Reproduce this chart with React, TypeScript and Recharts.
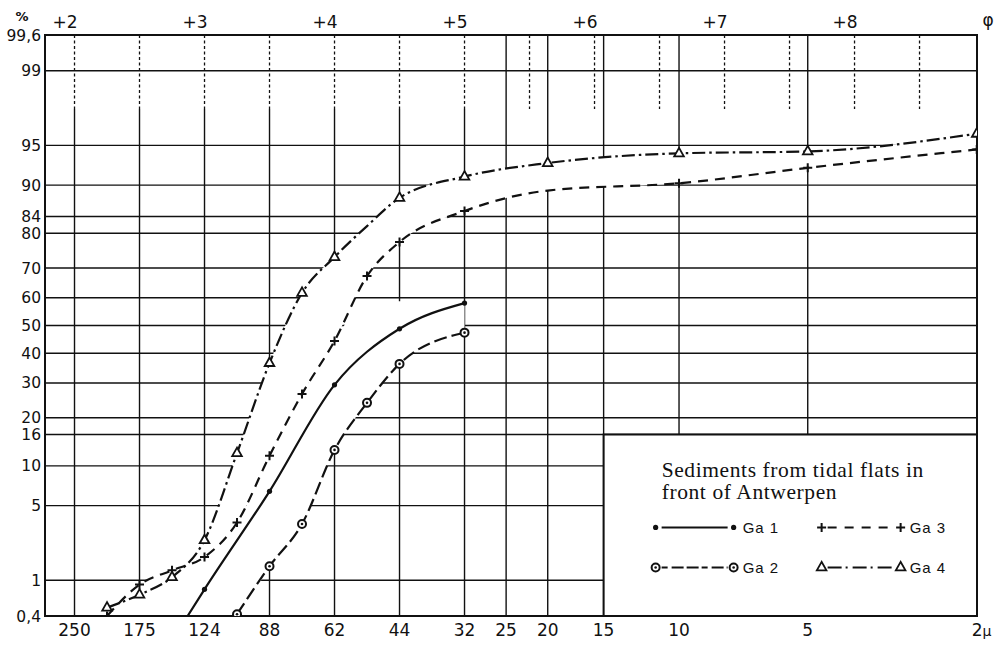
import React from 'react';
import { ComposedChart, Line, Area, XAxis, YAxis, ReferenceLine, ReferenceArea } from 'recharts';

// ---------- grain-size classes (phi) ----------
const PHI = [2.25, 2.5, 2.75, 3.0, 3.25, 3.5, 3.75, 4.0, 4.25, 4.5, 5.0, 5.64, 6.65, 7.64, 8.94];

// ---------- cumulative percentages ----------
const ga1Phi = [2.87, 3.0, 3.5, 4.0, 4.5, 5.0];
const ga1Pct = [0.4, 0.8, 6.5, 29.4, 48.8, 58.1];
const ga1Measured = [false, true, true, true, true, true];

const ga2Phi = [3.25, 3.5, 3.75, 4.0, 4.25, 4.5, 5.0];
const ga2Pct = [0.42, 1.4, 3.5, 12.8, 24, 36.3, 47.4];

const ga3Pct = [0.4, 0.9, 1.27, 1.73, 3.6, 11.7, 26.6, 44.4, 67.4, 77.7, 85.2, 89.1, 90.3, 92.5, 94.6];
const ga3Measured = [true, true, true, true, true, true, true, true, true, true, true, false, true, true, true];

const ga4Pct = [0.5, 0.7, 1.08, 2.5, 12.2, 36.6, 61.7, 73.4, 81.8, 87.8, 91.3, 93.1, 94.2, 94.4, 96.0];
const ga4Measured = [true, true, true, true, true, true, true, true, false, true, true, true, true, true, true];

// ---------- axes ----------
const yTickPct = [0.4, 1, 5, 10, 16, 20, 30, 40, 50, 60, 70, 80, 84, 90, 95, 99, 99.6];
const yTickText = ['0,4', '1', '5', '10', '16', '20', '30', '40', '50', '60', '70', '80', '84', '90', '95', '99', '99,6'];

const phiTicks = [2, 3, 4, 5, 6, 7, 8];
const phiTickText = ['+2', '+3', '+4', '+5', '+6', '+7', '+8'];
const phiHalfSteps = [2, 2.5, 3, 3.5, 4, 4.5, 5, 5.5, 6, 6.5, 7, 7.5, 8, 8.5];

const micronText = ['250', '175', '124', '88', '62', '44', '32', '25', '20', '15', '10', '5', '2'];
const micronPhi = [2, 2.5, 3, 3.5, 4, 4.5, 5, 5.32, 5.64, 6.07, 6.65, 7.64, 8.94];
const sieveLinePhi = [2, 2.5, 3, 3.5, 4, 4.5, 5];
const pipetteLinePhi = [5.32, 5.64, 6.07, 6.65, 7.64];

const X_MIN = 1.773;
const X_MAX = 8.942;
const PCT_MIN = 0.4;
const PCT_MAX = 99.6;
const GUIDE_PCT = 97.6; // lower end of the dashed phi guides
const CLEAR_CUT = 58.8; // grid is kept above this level right of Ga 3
const LEGEND_PCT = 16;
const LEGEND_PHI = 6.07;

// inverse of the standard normal CDF (Acklam)
function probit(p: number): number {
  const a = [-39.69683028665376, 220.9460984245205, -275.9285104469687, 138.357751867269, -30.66479806614716, 2.506628277459239];
  const b = [-54.47609879822406, 161.5858368580409, -155.6989798598866, 66.80131188771972, -13.28068155288572];
  const c = [-0.007784894002430293, -0.3223964580411365, -2.400758277161838, -2.549732539343734, 4.374664141464968, 2.938163982698783];
  const d = [0.007784695709041462, 0.3224671290700398, 2.445134137142996, 3.754408661907416];
  const pl = 0.02425;
  if (p < pl) {
    const q = Math.sqrt(-2 * Math.log(p));
    return (((((c[0] * q + c[1]) * q + c[2]) * q + c[3]) * q + c[4]) * q + c[5]) / ((((d[0] * q + d[1]) * q + d[2]) * q + d[3]) * q + 1);
  }
  if (p > 1 - pl) {
    const q = Math.sqrt(-2 * Math.log(1 - p));
    return -(((((c[0] * q + c[1]) * q + c[2]) * q + c[3]) * q + c[4]) * q + c[5]) / ((((d[0] * q + d[1]) * q + d[2]) * q + d[3]) * q + 1);
  }
  const q = p - 0.5;
  const r = q * q;
  return ((((((a[0] * r + a[1]) * r + a[2]) * r + a[3]) * r + a[4]) * r + a[5]) * q) / (((((b[0] * r + b[1]) * r + b[2]) * r + b[3]) * r + b[4]) * r + 1);
}
const pz = (pct: number) => probit(pct / 100);

const Z_MIN = pz(PCT_MIN);
const Z_MAX = pz(PCT_MAX);

// ---------- rows for the series ----------
const ga1Rows = ga1Phi.map((phi, i) => ({ phi, v: pz(ga1Pct[i]), measured: ga1Measured[i] }));
const ga2Rows = ga2Phi.map((phi, i) => ({ phi, v: pz(ga2Pct[i]), measured: true }));
const ga3Rows = PHI.map((phi, i) => ({ phi, v: pz(ga3Pct[i]), measured: ga3Measured[i] }));
const ga4Rows = PHI.map((phi, i) => ({ phi, v: pz(ga4Pct[i]), measured: ga4Measured[i] }));

// cleared (gridless) strips between the curves
const clearUpperRows = PHI.map((phi, i) => ({ phi, range: [pz(ga3Pct[i]), pz(ga4Pct[i])] }));
const clearLowerRows = PHI.filter((phi) => phi <= 5.0).map((phi, i) => {
  const k = ga2Phi.indexOf(phi);
  const low = k >= 0 ? ga2Pct[k] : PCT_MIN;
  const high = Math.min(ga3Pct[i], CLEAR_CUT);
  return { phi, range: [pz(low), pz(high)] };
});

// ---------- styles ----------
const INK = '#111';
const AXIS_FONT = '"DejaVu Sans", sans-serif';
const DASH_GA2 = '13 5';
const DASH_GA3 = '10 7';
const DASH_GA4 = '13 4 2.5 4';

type MarkKind = 'dot' | 'ring' | 'plus' | 'tri';

function Mark({ kind, cx, cy }: { kind: MarkKind; cx: number; cy: number }) {
  if (kind === 'dot') return <circle cx={cx} cy={cy} r={2.6} fill={INK} />;
  if (kind === 'ring')
    return (
      <g>
        <circle cx={cx} cy={cy} r={4} fill="#fff" stroke={INK} strokeWidth={2} />
        <circle cx={cx} cy={cy} r={1.3} fill={INK} />
      </g>
    );
  if (kind === 'plus')
    return <path d={`M${cx - 4.5},${cy}H${cx + 4.5}M${cx},${cy - 4.5}V${cy + 4.5}`} stroke={INK} strokeWidth={2} fill="none" />;
  return (
    <polygon
      points={`${cx},${cy - 5.5} ${cx - 4.8},${cy + 3} ${cx + 4.8},${cy + 3}`}
      fill="#fff"
      stroke={INK}
      strokeWidth={1.8}
    />
  );
}

const dotRenderer = (kind: MarkKind, name: string) => (props: any) => {
  const { cx, cy, index, payload } = props;
  if (!payload || !payload.measured || cx == null || cy == null) return <g key={`${name}-${index}`} />;
  return (
    <g key={`${name}-${index}`}>
      <Mark kind={kind} cx={cx} cy={cy} />
    </g>
  );
};

const legendEntries: { name: string; kind: MarkKind; dash?: string; col: number; row: number }[] = [
  { name: 'Ga 1', kind: 'dot', col: 0, row: 0 },
  { name: 'Ga 3', kind: 'plus', dash: '9 8', col: 1, row: 0 },
  { name: 'Ga 2', kind: 'ring', dash: '6 4 12 3 12 3', col: 0, row: 1 },
  { name: 'Ga 4', kind: 'tri', dash: '14 4 2 5', col: 1, row: 1 },
];

function LegendPanel(props: any) {
  const vb = props.viewBox || { x: 0, y: 0 };
  const x0 = vb.x;
  const y0 = vb.y;
  const titleStyle = {
    fontFamily: '"Liberation Serif", "Times New Roman", serif',
    fontSize: 21.5,
    letterSpacing: 0.6,
    fill: INK,
  };
  return (
    <g>
      <text x={x0 + 58} y={y0 + 43} style={titleStyle}>Sediments from tidal flats in</text>
      <text x={x0 + 58} y={y0 + 65} style={titleStyle}>front of Antwerpen</text>
      {legendEntries.map((e) => {
        const sx = x0 + (e.col === 0 ? 52 : 218);
        const ex = sx + (e.col === 0 ? 78 : 79);
        const yy = y0 + (e.row === 0 ? 93 : 133);
        return (
          <g key={e.name}>
            <line x1={sx + 6} x2={ex - 6} y1={yy} y2={yy} stroke={INK} strokeWidth={2} strokeDasharray={e.dash} />
            <Mark kind={e.kind} cx={sx} cy={yy} />
            <Mark kind={e.kind} cx={ex} cy={yy} />
            <text
              x={ex + 9}
              y={yy}
              dy="0.35em"
              style={{ fontFamily: '"Liberation Sans", Arial, sans-serif', fontSize: 15, letterSpacing: 1, fill: INK }}
            >
              {e.name}
            </text>
          </g>
        );
      })}
    </g>
  );
}

function CornerMarks(props: any) {
  const vb = props.viewBox || { x: 0, y: 0, width: 0, height: 0 };
  return (
    <g style={{ fontFamily: AXIS_FONT, fill: INK }}>
      <text x={vb.x - 23} y={21} textAnchor="middle" style={{ fontSize: 13, fontWeight: 'bold' }}>%</text>
      <text x={vb.x + vb.width + 11} y={26} textAnchor="middle" style={{ fontSize: 17 }}>φ</text>
    </g>
  );
}

function TopTick(props: any) {
  const { x, payload } = props;
  const i = phiTicks.indexOf(payload.value);
  return (
    <text x={x + 3} y={28} textAnchor="end" style={{ fontFamily: AXIS_FONT, fontSize: 17, fill: INK }}>
      {phiTickText[i]}
    </text>
  );
}

function BottomTick(props: any) {
  const { x, payload } = props;
  const i = micronPhi.indexOf(payload.value);
  const label = micronText[i];
  const last = i === micronPhi.length - 1;
  return (
    <text
      x={last ? x - 5 : x}
      y={636}
      textAnchor={last ? 'start' : 'middle'}
      style={{ fontFamily: AXIS_FONT, fontSize: 17, fill: INK }}
    >
      {label}
      {last ? <tspan style={{ fontSize: 14 }}>µ</tspan> : null}
    </text>
  );
}

export default function App() {
  return (
    <div style={{ position: 'absolute', left: 0, top: 0, width: 1005, height: 649, background: '#fff' }}>
      <ComposedChart width={1005} height={649} margin={{ top: 0, right: 28, bottom: 0, left: 0 }}>
        <XAxis
          type="number"
          dataKey="phi"
          domain={[X_MIN, X_MAX]}
          allowDataOverflow
          ticks={micronPhi}
          interval={0}
          height={33}
          axisLine={false}
          tickLine={false}
          tick={<BottomTick />}
        />
        <XAxis
          xAxisId="top"
          orientation="top"
          type="number"
          dataKey="phi"
          domain={[X_MIN, X_MAX]}
          allowDataOverflow
          ticks={phiTicks}
          interval={0}
          height={35}
          axisLine={false}
          tickLine={false}
          tick={<TopTick />}
          label={(p: any) => <CornerMarks {...p} />}
        />
        <YAxis
          type="number"
          domain={[Z_MIN, Z_MAX]}
          allowDataOverflow
          ticks={yTickPct.map(pz)}
          interval={0}
          width={45}
          axisLine={false}
          tickLine={false}
          tickSize={0}
          tickMargin={4}
          tickFormatter={(_v: number, i: number) => yTickText[i]}
          tick={{ fontFamily: AXIS_FONT, fontSize: 15.5, fill: INK }}
        />

        {/* probability grid */}
        {yTickPct.slice(1, -1).map((p) => (
          <ReferenceLine key={`h${p}`} y={pz(p)} stroke={INK} strokeWidth={1.4} zIndex={-50} />
        ))}
        {phiHalfSteps.map((phi) => (
          <ReferenceLine
            key={`g${phi}`}
            segment={[{ x: phi, y: Z_MAX }, { x: phi, y: pz(GUIDE_PCT) }]}
            stroke={INK}
            strokeWidth={1.3}
            strokeDasharray="3 2.5"
            zIndex={-50}
          />
        ))}
        {sieveLinePhi.map((phi) => (
          <ReferenceLine
            key={`s${phi}`}
            segment={[{ x: phi, y: pz(GUIDE_PCT) }, { x: phi, y: Z_MIN }]}
            stroke={INK}
            strokeWidth={1.4}
            zIndex={-50}
          />
        ))}
        {pipetteLinePhi.map((phi) => (
          <ReferenceLine
            key={`p${phi}`}
            segment={[{ x: phi, y: Z_MAX }, { x: phi, y: Z_MIN }]}
            stroke={INK}
            strokeWidth={1.4}
            zIndex={-50}
          />
        ))}

        {/* gridless strips between the curves */}
        <Area
          data={clearUpperRows}
          dataKey="range"
          type="monotone"
          stroke="none"
          fill="#fff"
          fillOpacity={1}
          isAnimationActive={false}
          activeDot={false}
          legendType="none"
          zIndex={50}
        />
        <Area
          data={clearLowerRows}
          dataKey="range"
          type="monotone"
          stroke="none"
          fill="#fff"
          fillOpacity={1}
          isAnimationActive={false}
          activeDot={false}
          legendType="none"
          zIndex={50}
        />

        {/* plot frame and legend panel */}
        <ReferenceArea
          x1={X_MIN}
          x2={X_MAX}
          y1={Z_MIN}
          y2={Z_MAX}
          fill="none"
          stroke={INK}
          strokeWidth={2}
          zIndex={70}
        />
        <ReferenceArea
          x1={LEGEND_PHI}
          x2={X_MAX}
          y1={Z_MIN}
          y2={pz(LEGEND_PCT)}
          fill="#fff"
          fillOpacity={1}
          stroke={INK}
          strokeWidth={2}
          zIndex={80}
          label={(p: any) => <LegendPanel {...p} />}
        />

        {/* curves */}
        <Line
          name="Ga 1"
          data={ga1Rows}
          dataKey="v"
          type="monotone"
          stroke={INK}
          strokeWidth={2.2}
          dot={dotRenderer('dot', 'ga1')}
          activeDot={false}
          isAnimationActive={false}
        />
        <Line
          name="Ga 2"
          data={ga2Rows}
          dataKey="v"
          type="monotone"
          stroke={INK}
          strokeWidth={2.2}
          strokeDasharray={DASH_GA2}
          dot={dotRenderer('ring', 'ga2')}
          activeDot={false}
          isAnimationActive={false}
        />
        <Line
          name="Ga 3"
          data={ga3Rows}
          dataKey="v"
          type="monotone"
          stroke={INK}
          strokeWidth={2.2}
          strokeDasharray={DASH_GA3}
          dot={dotRenderer('plus', 'ga3')}
          activeDot={false}
          isAnimationActive={false}
        />
        <Line
          name="Ga 4"
          data={ga4Rows}
          dataKey="v"
          type="monotone"
          stroke={INK}
          strokeWidth={2.2}
          strokeDasharray={DASH_GA4}
          dot={dotRenderer('tri', 'ga4')}
          activeDot={false}
          isAnimationActive={false}
        />
      </ComposedChart>
    </div>
  );
}
